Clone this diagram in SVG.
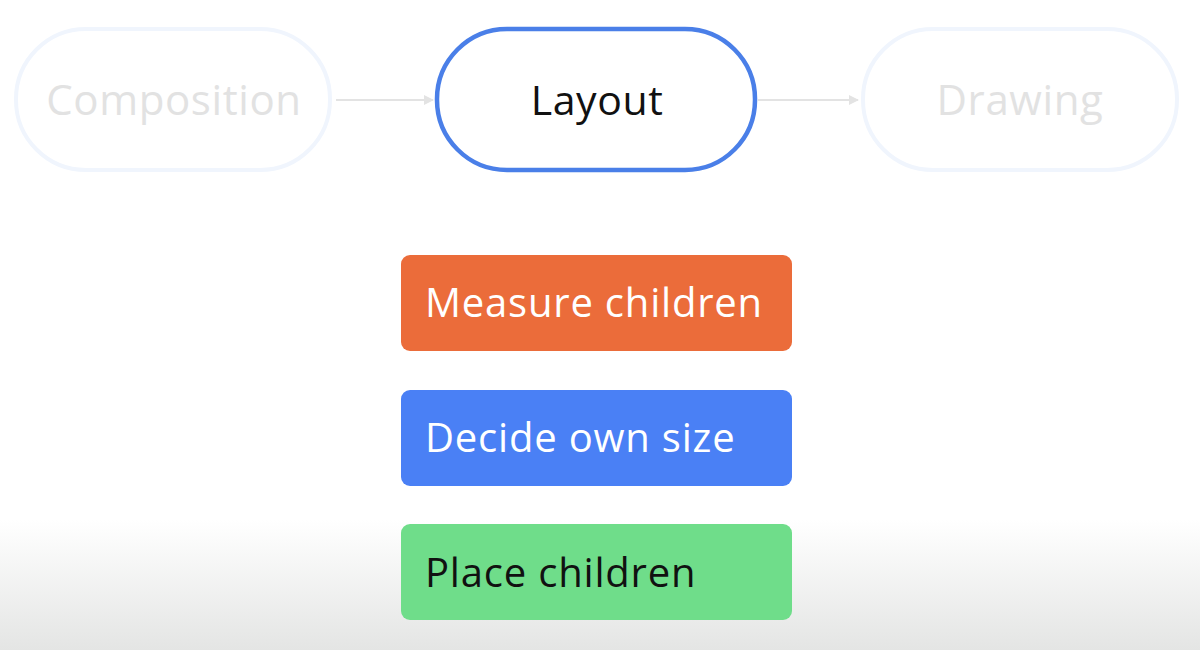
<svg xmlns="http://www.w3.org/2000/svg" width="1200" height="650" viewBox="0 0 1200 650">
<style>
.faint{fill:#fff;stroke:#f0f5fd;stroke-width:4}
.ftxt{font-family:"Open Sans","Noto Sans",sans-serif;font-size:42px;fill:#e2e2e2;text-anchor:middle;letter-spacing:0.6px}
.main{fill:#fff;stroke:#4a7fe8;stroke-width:4.5}
.mtxt{font-family:"Open Sans","Noto Sans",sans-serif;font-size:41px;fill:#111;text-anchor:middle;letter-spacing:0.6px}
.btxt{font-family:"Open Sans","Noto Sans",sans-serif;font-size:40px;letter-spacing:0.8px}
.conn{stroke:#e3e3e3;stroke-width:2;fill:none}
</style>
<defs>
<linearGradient id="bg" x1="0" y1="0" x2="0" y2="1">
<stop offset="0" stop-color="#ffffff"/>
<stop offset="0.8" stop-color="#ffffff"/>
<stop offset="1" stop-color="#e4e5e4"/>
</linearGradient>
<marker id="ah" markerWidth="10" markerHeight="10" refX="9" refY="5" orient="auto" markerUnits="userSpaceOnUse">
<path d="M0,0 L10,5 L0,10 Z" fill="#e3e3e3"/>
</marker>
</defs>
<rect width="1200" height="650" fill="url(#bg)"/>
<g id="connectors">
<line class="conn" x1="336" y1="100" x2="433" y2="100" marker-end="url(#ah)"/>
<line class="conn" x1="758" y1="100" x2="858" y2="100" marker-end="url(#ah)"/>
</g>
<g id="composition">
<rect class="faint" x="16" y="29" width="314" height="141" rx="70"/>
<text class="ftxt" x="174" y="115">Composition</text>
</g>
<g id="layout">
<rect class="main" x="437" y="29" width="318" height="141" rx="70"/>
<text class="mtxt" x="597" y="115">Layout</text>
</g>
<g id="drawing">
<rect class="faint" x="863" y="29" width="314" height="141" rx="70"/>
<text class="ftxt" x="1020" y="115">Drawing</text>
</g>
<g id="measure">
<rect x="401" y="255" width="391" height="96" rx="9" fill="#eb6c3a"/>
<text class="btxt" x="425" y="317" fill="#fff">Measure children</text>
</g>
<g id="decide">
<rect x="401" y="390" width="391" height="96" rx="9" fill="#4a80f5"/>
<text class="btxt" x="425" y="452" fill="#fff">Decide own size</text>
</g>
<g id="place">
<rect x="401" y="524" width="391" height="96" rx="9" fill="#6fdd8a"/>
<text class="btxt" x="425" y="587" fill="#111">Place children</text>
</g>
</svg>
